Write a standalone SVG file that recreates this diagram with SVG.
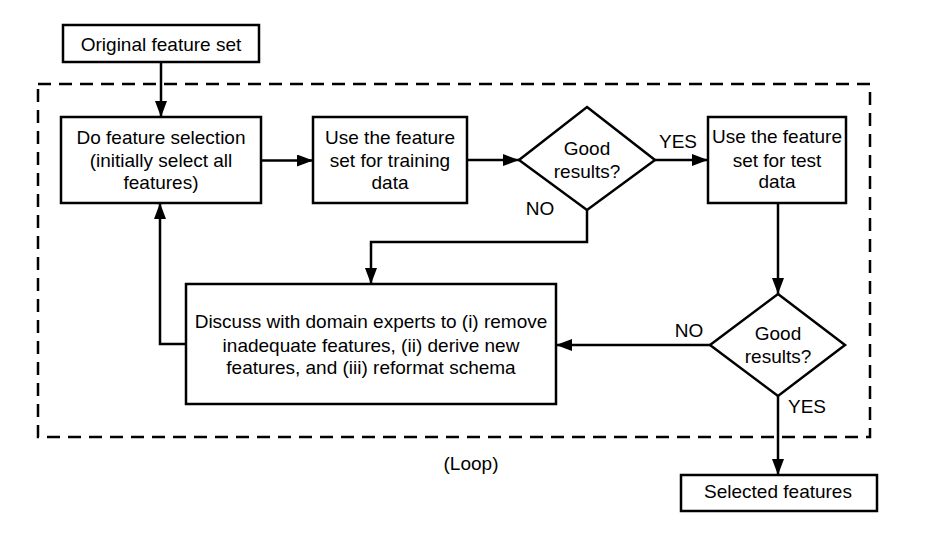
<svg xmlns="http://www.w3.org/2000/svg" width="943" height="533" viewBox="0 0 943 533">
<style>
.box{fill:#fff;stroke:#000;stroke-width:2.5}
.ln{fill:none;stroke:#000;stroke-width:2.5}
.t{font-family:"Liberation Sans",Arial,sans-serif;font-size:19px;fill:#000;text-anchor:middle}
.dash{fill:none;stroke:#000;stroke-width:2.5;stroke-dasharray:13 8}
</style>
<defs>
<marker id="ah" markerWidth="16" markerHeight="12" refX="16" refY="6" orient="auto" markerUnits="userSpaceOnUse">
<path d="M0,0 L16,6 L0,12 Z" fill="#000"/>
</marker>
</defs>
<rect width="943" height="533" fill="#fff"/>
<rect id="loop" class="dash" x="38" y="84" width="832" height="353"/>
<g id="connectors">
<path class="ln" d="M161,62 V117" marker-end="url(#ah)"/>
<path class="ln" d="M261,160.5 H313" marker-end="url(#ah)"/>
<path class="ln" d="M467,160 H519" marker-end="url(#ah)"/>
<path class="ln" d="M655,160 H708" marker-end="url(#ah)"/>
<path class="ln" d="M587,210 V242 H371 V284" marker-end="url(#ah)"/>
<path class="ln" d="M778,203 V294" marker-end="url(#ah)"/>
<path class="ln" d="M710,345 H556" marker-end="url(#ah)"/>
<path class="ln" d="M186,344 H160 V203" marker-end="url(#ah)"/>
<path class="ln" d="M778,396 V475" marker-end="url(#ah)"/>
<text class="t" x="678" y="148">YES</text>
<text class="t" x="540" y="215">NO</text>
<text class="t" x="689" y="337">NO</text>
<text class="t" x="807" y="413">YES</text>
</g>
<g id="original"><rect class="box" x="63" y="25" width="196" height="37"/><text class="t" x="161" y="50.5">Original feature set</text></g>
<g id="select"><rect class="box" x="61" y="117" width="200" height="86"/><text class="t" x="161" y="143.8">Do feature selection</text><text class="t" x="161" y="166.5">(initially select all</text><text class="t" x="161" y="188.8">features)</text></g>
<g id="train"><rect class="box" x="313" y="117" width="154" height="86"/><text class="t" x="390" y="143.8">Use the feature</text><text class="t" x="390" y="166.5">set for training</text><text class="t" x="390" y="188.8">data</text></g>
<g id="good1"><path class="box" d="M587,107 L655,160 L587,210 L519,160 Z"/><text class="t" x="587" y="155">Good</text><text class="t" x="587" y="177.5">results?</text></g>
<g id="test"><rect class="box" x="708" y="117" width="138" height="86"/><text class="t" x="777" y="143.3">Use the feature</text><text class="t" x="777" y="166.5">set for test</text><text class="t" x="777" y="188.3">data</text></g>
<g id="good2"><path class="box" d="M778,294 L845,345 L778,396 L710,345 Z"/><text class="t" x="778" y="340">Good</text><text class="t" x="778" y="363.3">results?</text></g>
<g id="discuss"><rect class="box" x="186" y="284" width="370" height="120"/><text class="t" x="371" y="328.3">Discuss with domain experts to (i) remove</text><text class="t" x="371" y="351.5">inadequate features, (ii) derive new</text><text class="t" x="371" y="373.8">features, and (iii) reformat schema</text></g>
<g id="selected"><rect class="box" x="681" y="475" width="196" height="36"/><text class="t" x="778" y="498.3">Selected features</text></g>
<text class="t" x="471" y="470">(Loop)</text>
</svg>
